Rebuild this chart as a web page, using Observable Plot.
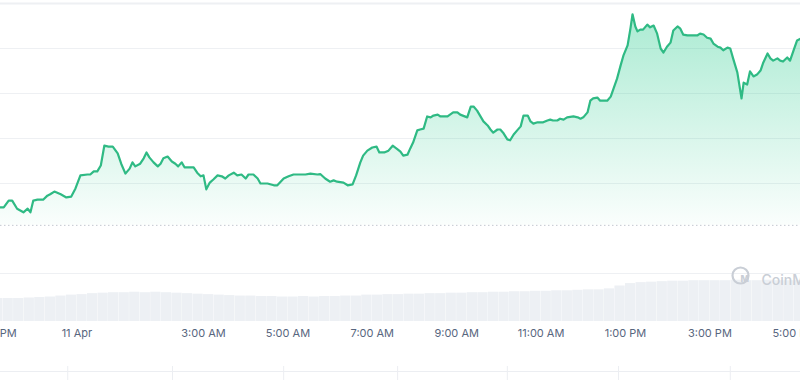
<!DOCTYPE html>
<html><head><meta charset="utf-8">
<script src="https://cdn.jsdelivr.net/npm/d3@7"></script>
<script src="https://cdn.jsdelivr.net/npm/@observablehq/plot@0.6"></script>
<style>
html,body{margin:0;padding:0;background:#fff;}
#chart{position:relative;width:800px;height:380px;overflow:hidden;font-family:Inter,"Noto Sans",sans-serif;}
#chart svg{position:absolute;left:0;background:transparent;overflow:hidden;}
</style></head><body><div id="chart"></div>
<script>
// ---- price series (10-11 Apr) ----
const priceTimes = [
"22:11","22:16","22:23","22:28","22:35","22:44","22:50","22:54","22:58","23:04","23:12","23:18","23:22","23:28","23:37","23:45","23:52","23:58",
"00:05","00:15","00:19","00:24","00:29","00:34","00:39","00:45","00:51","00:58",
"01:03","01:09","01:15","01:19","01:23","01:30","01:35","01:39","01:43","01:49","01:55","01:59",
"02:03","02:09","02:15","02:20","02:24","02:29","02:33","02:42","02:46","02:51","02:56",
"03:00","03:04","03:09","03:14","03:20","03:26","03:31","03:36","03:43","03:48","03:54",
"04:00","04:04","04:11","04:17","04:21","04:31","04:40","04:45","04:54",
"05:01","05:08","05:18","05:25","05:32","05:42","05:46","05:53",
"06:00","06:05","06:10","06:19","06:25","06:32","06:37","06:43","06:47","06:53",
"07:00","07:06","07:10","07:17","07:23","07:29","07:36","07:40","07:44","07:50","07:54","07:58",
"08:04","08:08","08:13","08:18","08:23","08:27","08:33","08:37","08:47","08:55",
"09:01","09:05","09:15","09:20","09:24","09:29","09:38","09:44","09:48","09:52","09:58",
"10:02","10:06","10:12","10:16","10:21","10:26","10:31","10:35","10:41","10:45","10:49","10:55","10:59",
"11:03","11:09","11:13","11:17","11:23","11:27","11:32","11:37","11:46","11:52","11:56",
"12:00","12:06","12:10","12:14","12:20","12:24","12:29","12:34","12:39","12:43","12:48","12:53","12:57",
"13:03","13:07","13:10","13:14","13:17","13:21","13:25","13:31","13:35","13:40","13:45","13:50","13:54","13:59",
"14:04","14:08","14:14","14:18","14:22","14:28","14:32","14:42","14:46","14:51","14:56",
"15:01","15:05","15:11","15:15","15:19","15:25","15:29","15:33","15:39","15:45","15:48","15:53","15:57",
"16:02","16:07","16:12","16:16","16:22","16:26","16:30","16:36","16:40","16:44","16:50","16:54","16:59",
"17:04","17:09"];
const prices = [
60.47,60.47,60.62,60.62,60.44,60.36,60.44,60.36,60.62,60.64,60.64,60.73,60.76,60.82,60.76,60.69,60.71,60.89,
61.18,61.20,61.20,61.27,61.27,61.40,61.84,61.82,61.82,61.67,
61.44,61.22,61.33,61.47,61.38,61.44,61.56,61.69,61.58,61.47,61.38,61.44,
61.56,61.60,61.49,61.44,61.38,61.47,61.36,61.36,61.36,61.24,61.16,
61.18,60.87,61.02,61.09,61.18,61.16,61.11,61.18,61.24,61.18,61.20,
61.11,61.20,61.20,61.11,61.00,61.00,60.96,60.96,61.11,
61.16,61.20,61.20,61.20,61.22,61.20,61.21,61.11,
61.04,61.07,61.04,61.02,60.96,60.98,61.18,61.47,61.62,61.73,
61.80,61.82,61.69,61.69,61.73,61.84,61.76,61.71,61.62,61.64,61.78,61.91,
62.18,62.20,62.22,62.49,62.47,62.51,62.53,62.49,62.49,62.58,
62.58,62.53,62.47,62.71,62.71,62.62,62.38,62.29,62.20,62.13,62.20,
62.20,62.13,61.98,61.96,62.09,62.18,62.27,62.51,62.51,62.38,62.33,62.36,62.36,
62.36,62.40,62.42,62.40,62.40,62.44,62.42,62.47,62.49,62.47,62.44,
62.47,62.58,62.84,62.89,62.91,62.84,62.84,62.84,62.93,63.11,63.33,63.62,63.84,
64.07,64.44,64.76,64.49,64.38,64.42,64.42,64.53,64.47,64.51,64.33,64.00,63.91,64.04,
64.13,64.40,64.49,64.44,64.31,64.29,64.29,64.29,64.33,64.31,64.24,
64.22,64.11,64.04,64.02,63.96,64.02,64.00,63.78,63.47,62.89,63.24,63.20,63.49,
63.38,63.42,63.51,63.69,63.89,63.78,63.73,63.78,63.73,63.71,63.80,63.73,63.96,
64.18,64.22];
const refPrice = 60.07;            // dotted reference (previous close)
const gridPrices = [61, 62, 63, 64, 65];

// ---- volume series (15-minute bars) ----
const volumeTimes = [
"22:00","22:15","22:30","22:45","23:00","23:15","23:30","23:45",
"00:00","00:15","00:30","00:45","01:00","01:15","01:30","01:45",
"02:00","02:15","02:30","02:45","03:00","03:15","03:30","03:45",
"04:00","04:15","04:30","04:45","05:00","05:15","05:30","05:45",
"06:00","06:15","06:30","06:45","07:00","07:15","07:30","07:45",
"08:00","08:15","08:30","08:45","09:00","09:15","09:30","09:45",
"10:00","10:15","10:30","10:45","11:00","11:15","11:30","11:45",
"12:00","12:15","12:30","12:45","13:00","13:15","13:30","13:45",
"14:00","14:15","14:30","14:45","15:00","15:15","15:30","15:45",
"16:00","16:15","16:30","16:45","17:00"];
const volumes = [
48,48,48,49,50,51,53,55,
56,58,59,60,60,61,60,61,
60,59,58,57,56,55,54,53,
53,52,52,51,51,52,51,52,
52,53,53,55,55,56,56,57,
57,58,58,59,59,60,60,61,
61,62,62,63,63,64,64,65,
66,66,68,74,79,81,82,83,
84,84,85,85,85,85,86,85,
85,86,85,85,85];
const volumeGrid = [100];

// ---- axis ticks ----
const tickTimes  = ["22:00","00:00","03:00","05:00","07:00","09:00","11:00","13:00","15:00","17:00"];
const tickLabels = ["10:00 PM","11 Apr","3:00 AM","5:00 AM","7:00 AM","9:00 AM","11:00 AM","1:00 PM","3:00 PM","5:00 PM"];
const navTimes   = ["23:47","02:16","04:54","07:36","10:12","12:50","15:29"];
const watermark  = "CoinMarketCap";

function toDate(hm){
  const [h, m] = hm.split(":").map(Number);
  return new Date(Date.UTC(2024, 3, h >= 20 ? 10 : 11, h, m));
}
const xScale = {
  type: "utc",
  domain: [new Date(Date.UTC(2024,3,10,22,11,23)), new Date(Date.UTC(2024,3,11,17,8,50))],
  range: [0, 800],
  axis: null
};
const green = "#2fba84";

const priceData = priceTimes.map((t, i) => ({t: toDate(t), p: prices[i]}));
const volData = volumeTimes.map((t, i) => ({t: toDate(t), t2: d3.utcMinute.offset(toDate(t), 15), v: volumes[i]}));
const tickData = tickTimes.map((t, i) => ({t: toDate(t), label: tickLabels[i]}));

const defs = () => {
  const d = d3.create("svg:defs");
  const g = d.append("linearGradient").attr("id", "pgrad")
    .attr("x1", 0).attr("y1", 0).attr("x2", 0).attr("y2", 1);
  g.append("stop").attr("offset", "0%").attr("stop-color", "#16c784").attr("stop-opacity", 0.36);
  g.append("stop").attr("offset", "100%").attr("stop-color", "#16c784").attr("stop-opacity", 0.02);
  return d.node();
};

const p1 = Plot.plot({
  width: 800, height: 240, margin: 0,
  style: {background: "transparent"},
  x: xScale,
  y: {domain: [60, 65], range: [228, 3], axis: null},
  marks: [
    defs,
    Plot.ruleY(gridPrices, {stroke: "#eef0f3", strokeWidth: d => d === 65 ? 2 : 1}),
    Plot.areaY(priceData, {x: "t", y1: () => refPrice, y2: "p", fill: "url(#pgrad)"}),
    Plot.ruleY([refPrice], {stroke: "#c3c8d0", strokeDasharray: "1.5,2.5"}),
    Plot.lineY(priceData, {x: "t", y: "p", stroke: green, strokeWidth: 2.2})
  ]
});

const p2 = Plot.plot({
  width: 800, height: 140, marginTop: 0, marginBottom: 44, marginLeft: 0, marginRight: 0,
  style: {background: "transparent", fontFamily: "Inter, sans-serif"},
  x: xScale,
  y: {domain: [0, 100], range: [81, 33], axis: null},
  marks: [
    Plot.ruleY(volumeGrid, {stroke: "#eef0f3"}),
    Plot.rectY(volData, {x1: "t", x2: "t2", y: "v", fill: "#edf0f4", insetRight: 0.3}),
    Plot.text(tickData, {x: "t", text: "label", frameAnchor: "bottom", fill: "#58667e", fontSize: 11}),
    Plot.dot([watermark], {frameAnchor: "top-left", dx: 740, dy: 35, r: 8, stroke: "#c9ced6", strokeWidth: 2.2, fill: "none"}),
    Plot.text(["M"], {frameAnchor: "top-left", dx: 740, dy: 35.5, fontSize: 9, fontWeight: 800, fill: "#c9ced6"}),
    Plot.text([watermark], {frameAnchor: "top-left", dx: 761, dy: 35, textAnchor: "start", fontSize: 14, fontWeight: 500, fill: "#c9ced6"})
  ]
});

const p3 = Plot.plot({
  width: 800, height: 14, margin: 0,
  style: {background: "transparent"},
  x: xScale,
  y: {domain: [0, 1], range: [5, 14], axis: null},
  marks: [
    Plot.ruleY([0], {stroke: "#eceef2"}),
    Plot.tickX(navTimes.map(toDate), {x: d => d, stroke: "#eceef2"})
  ]
});

const root = document.getElementById("chart");
p1.style.top = "0px"; p2.style.top = "240px"; p3.style.top = "366px";
root.append(p1, p2, p3);
</script>
</body></html>
